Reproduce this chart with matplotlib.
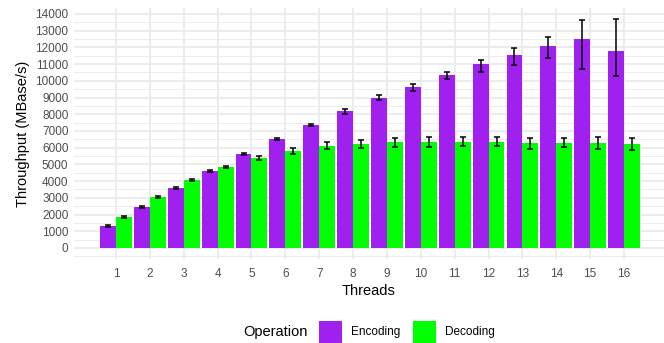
import matplotlib
matplotlib.use("Agg")
import matplotlib.pyplot as plt
from matplotlib.patches import Rectangle
import numpy as np

plt.rcParams['font.family'] = ['Liberation Sans', 'DejaVu Sans']

threads = list(range(1, 17))
enc_mean = [1316, 2453, 3590, 4607, 5624, 6521, 7359, 8197, 8975, 9632, 10351, 11009, 11547, 12085, 12505, 11787]
enc_lo = [1270, 2410, 3550, 4570, 5590, 6480, 7299, 8017, 8836, 9411, 10111, 10548, 10949, 11386, 10692, 10291]
enc_hi = [1370, 2500, 3630, 4650, 5660, 6560, 7419, 8334, 9135, 9830, 10530, 11266, 11984, 12624, 13659, 13701]
dec_mean = [1855, 3051, 4068, 4846, 5385, 5803, 6103, 6222, 6342, 6342, 6342, 6342, 6282, 6282, 6282, 6222]
dec_lo = [1777, 2990, 4010, 4790, 5282, 5642, 5923, 5983, 6043, 6061, 6100, 6100, 5923, 6043, 5923, 5864]
dec_hi = [1933, 3110, 4120, 4900, 5522, 6001, 6322, 6462, 6600, 6660, 6660, 6620, 6600, 6600, 6660, 6600]
yticks = list(range(0, 14001, 1000))

enc_color = '#A020F0'
dec_color = '#00FF00'

fig = plt.figure(figsize=(6.64, 3.43), dpi=100)
W, H = 664, 343
ax = fig.add_axes([74 / W, (H - 259.4) / H, 590 / W, 251.5 / H])

x = np.array(threads, dtype=float)
bw = 0.47
em = np.array(enc_mean); dm = np.array(dec_mean)
ax.bar(x - bw / 2, em, width=bw, color=enc_color, zorder=3)
ax.bar(x + bw / 2, dm, width=bw, color=dec_color, zorder=3)
ax.errorbar(x - bw / 2, em, yerr=[em - np.array(enc_lo), np.array(enc_hi) - em],
            fmt='none', ecolor='black', elinewidth=1.1, capsize=2.2, capthick=1.1, zorder=4)
ax.errorbar(x + bw / 2, dm, yerr=[dm - np.array(dec_lo), np.array(dec_hi) - dm],
            fmt='none', ecolor='black', elinewidth=1.1, capsize=2.2, capthick=1.1, zorder=4)

ax.set_xlim(-0.24, 17.18)
ax.set_ylim(-684, 14364)
ax.set_xticks(threads)
ax.set_xticklabels([str(t) for t in threads])
ax.set_yticks(yticks)
ax.set_yticklabels([str(v) for v in yticks])
ax.set_yticks(np.arange(-500, 14400, 1000), minor=True)
ax.tick_params(axis='both', which='both', length=0, labelsize=8.5, labelcolor='#4D4D4D')
ax.tick_params(axis='x', pad=6)
ax.tick_params(axis='y', pad=4)
ax.grid(True, which='major', color='#EBEBEB', linewidth=1.3, zorder=0)
ax.grid(True, which='minor', axis='y', color='#EBEBEB', linewidth=0.65, zorder=0)
for s in ax.spines.values():
    s.set_visible(False)
ax.set_xlabel('Threads', fontsize=10.5, labelpad=3)
ax.set_ylabel('Throughput (MBase/s)', fontsize=10.5, labelpad=4)

# legend at bottom
fig.text(275 / W, 1 - 332 / H, 'Operation', fontsize=10.5, ha='center', va='center')
fig.add_artist(Rectangle((319 / W, 0), 23 / W, 22 / H, transform=fig.transFigure,
                         facecolor=enc_color, edgecolor='none'))
fig.text(351 / W, 1 - 332 / H, 'Encoding', fontsize=8.5, ha='left', va='center')
fig.add_artist(Rectangle((413 / W, 0), 23 / W, 22 / H, transform=fig.transFigure,
                         facecolor=dec_color, edgecolor='none'))
fig.text(445 / W, 1 - 332 / H, 'Decoding', fontsize=8.5, ha='left', va='center')

fig.savefig('out.png', dpi=100)
